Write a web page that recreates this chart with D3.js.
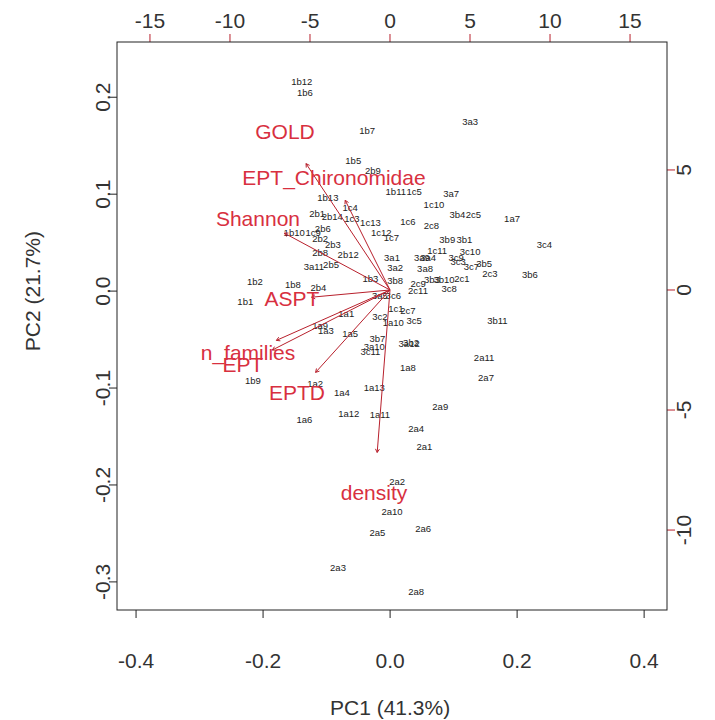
<!DOCTYPE html>
<html>
<head>
<meta charset="utf-8">
<script src="https://cdn.jsdelivr.net/npm/d3@7"></script>
<style>
  body { margin: 0; background: #fff; }
  text { font-family: "Liberation Sans", Arial, sans-serif; }
</style>
</head>
<body>
<div id="chart"></div>
<script>
// -------- DATA --------
// sample scores (PC1 / PC2, bottom + left axes)
const sampleIds = ["1b12","1b6","1b7","3a3","1b5","2b9","1b11","1c5","3a7","1b13","1c4","1c10",
  "2b1","2b14","1c3","1c13","1c6","3b4","2c5","1a7","2b6","1b10","1c9","1c12","1c7","2c8",
  "3b9","3b1","3c4","2b2","2b3","2b8","2b12","3a11","2b5","3a1","1c11","3a4","3a9","3c10",
  "3c9","3c3","3c7","3b5","2c3","3b6","3a2","3a8","3b3","3b10","2c1","2c9","2c11","3c8",
  "1b2","1b8","2b4","1b3","3b8","3a5","3c6","1b1","1a1","3c2","1c1","2c7","1a10","3c5",
  "1a9","1a3","1a5","3b7","3a10","3c11","3b2","3a12","3b11","1a8","2a11","2a7","1b9","1a2",
  "1a4","1a13","1a12","1a11","1a6","2a9","2a4","2a1","2a2","2a10","2a5","2a6","2a3","2a8"];
const pc1 = [-0.139,-0.134,-0.036,0.126,-0.058,-0.027,0.009,0.038,0.096,-0.098,-0.063,0.069,
  -0.115,-0.091,-0.060,-0.031,0.028,0.106,0.131,0.192,-0.106,-0.151,-0.121,-0.014,0.002,0.065,
  0.090,0.117,0.243,-0.110,-0.090,-0.110,-0.066,-0.120,-0.093,0.003,0.074,0.060,0.050,0.126,
  0.104,0.107,0.128,0.148,0.157,0.220,0.008,0.055,0.066,0.085,0.113,0.044,0.044,0.093,
  -0.213,-0.153,-0.113,-0.031,0.008,-0.016,0.005,-0.228,-0.069,-0.016,0.009,0.028,0.005,0.038,
  -0.110,-0.101,-0.063,-0.020,-0.025,-0.031,0.033,0.030,0.169,0.028,0.148,0.151,-0.216,-0.118,
  -0.076,-0.025,-0.065,-0.016,-0.135,0.079,0.041,0.054,0.011,0.003,-0.020,0.052,-0.082,0.041];
const pc2 = [0.216,0.205,0.165,0.175,0.135,0.124,0.103,0.103,0.101,0.096,0.086,0.089,
  0.080,0.077,0.075,0.071,0.072,0.079,0.079,0.075,0.064,0.060,0.060,0.060,0.055,0.067,
  0.053,0.053,0.048,0.054,0.048,0.040,0.038,0.025,0.027,0.035,0.042,0.034,0.035,0.041,
  0.034,0.030,0.025,0.028,0.018,0.017,0.024,0.023,0.012,0.012,0.013,0.008,0.000,0.002,
  0.010,0.007,0.004,0.013,0.011,-0.005,-0.005,-0.011,-0.023,-0.026,-0.018,-0.020,-0.033,-0.030,
  -0.036,-0.041,-0.044,-0.049,-0.057,-0.063,-0.053,-0.054,-0.030,-0.079,-0.069,-0.089,-0.092,-0.095,
  -0.105,-0.100,-0.126,-0.128,-0.133,-0.119,-0.142,-0.161,-0.197,-0.228,-0.249,-0.245,-0.285,-0.310];

// variable loadings (top + right axes)
const varNames = ["GOLD","EPT_Chironomidae","Shannon","ASPT","n_families","EPT","EPTD","density"];
const varPC1 = [-6.56,-3.5,-8.25,-6.125,-8.875,-9.19,-5.81,-1.0];
const varPC2 = [6.58,4.67,2.96,-0.375,-2.625,-3.125,-4.29,-8.46];

// tick labels
const bottomTicks = [-0.4,-0.2,0.0,0.2,0.4];
const leftTicks = [-0.3,-0.2,-0.1,0.0,0.1,0.2];
const topTicks = [-15,-10,-5,0,5,10,15];
const rightTicks = [-10,-5,0,5];

// -------- LAYOUT --------
const width = 715, height = 720;
const box = {left: 117, right: 667, top: 42, bottom: 610};
const tickLen = 8;
const fontSize = "21px";
const red = "#d8303f";
const arrowRed = "#b8202c";
const textGrey = "#333";

const svg = d3.select("#chart").append("svg")
  .attr("width", width).attr("height", height);

// scales
const x = d3.scaleLinear().domain([-0.43, 0.436]).range([box.left, box.right]);
const y = d3.scaleLinear().domain([-0.329, 0.257]).range([box.bottom, box.top]);
const xTop = d3.scaleLinear().domain([-17.06, 17.31]).range([box.left, box.right]);
const yRight = d3.scaleLinear().domain([-13.33, 10.33]).range([box.bottom, box.top]);

const fmt1 = d => d.toFixed(1);

// -------- SAMPLE LABELS --------
svg.append("g")
  .selectAll("text")
  .data(sampleIds)
  .join("text")
    .attr("x", (d, i) => x(pc1[i]))
    .attr("y", (d, i) => y(pc2[i]))
    .attr("dy", "0.35em")
    .attr("text-anchor", "middle")
    .style("font-size", "9.5px")
    .attr("fill", "#222")
    .text(d => d);

// -------- ARROWS --------
const arrowsG = svg.append("g")
  .attr("stroke", arrowRed)
  .attr("stroke-width", 1)
  .attr("fill", "none");

varNames.forEach((name, i) => {
  const x0 = xTop(0), y0 = yRight(0);
  const x1 = xTop(varPC1[i] * 0.8), y1 = yRight(varPC2[i] * 0.8);
  arrowsG.append("line")
    .attr("x1", x0).attr("y1", y0)
    .attr("x2", x1).attr("y2", y1);
  // kleine Pfeilspitze, 30 Grad
  const ang = Math.atan2(y1 - y0, x1 - x0);
  const len = 4;
  [Math.PI / 6, -Math.PI / 6].forEach(a => {
    arrowsG.append("line")
      .attr("x1", x1).attr("y1", y1)
      .attr("x2", x1 - len * Math.cos(ang + a))
      .attr("y2", y1 - len * Math.sin(ang + a));
  });
});

svg.append("g")
  .selectAll("text")
  .data(varNames)
  .join("text")
    .attr("x", (d, i) => xTop(varPC1[i]))
    .attr("y", (d, i) => yRight(varPC2[i]))
    .attr("dy", "0.35em")
    .attr("text-anchor", "middle")
    .style("font-size", fontSize)
    .attr("fill", red)
    .text(d => d);

// -------- AXES --------
// bottom
const bottomG = svg.append("g");
bottomG.selectAll("line").data(bottomTicks).join("line")
  .attr("x1", d => x(d)).attr("x2", d => x(d))
  .attr("y1", box.bottom).attr("y2", box.bottom + tickLen)
  .attr("stroke", "#222");
bottomG.selectAll("text").data(bottomTicks).join("text")
  .attr("x", d => x(d)).attr("y", 668)
  .attr("text-anchor", "middle")
  .style("font-size", fontSize).attr("fill", textGrey)
  .text(fmt1);

// left
const leftG = svg.append("g");
leftG.selectAll("line").data(leftTicks).join("line")
  .attr("x1", box.left - tickLen).attr("x2", box.left)
  .attr("y1", d => y(d)).attr("y2", d => y(d))
  .attr("stroke", "#222");
leftG.selectAll("text").data(leftTicks).join("text")
  .attr("transform", d => `translate(110, ${y(d)}) rotate(-90)`)
  .attr("text-anchor", "middle")
  .style("font-size", fontSize).attr("fill", textGrey)
  .text(fmt1);

// top (rote Ticks, schwarze Beschriftung)
const topG = svg.append("g");
topG.selectAll("line").data(topTicks).join("line")
  .attr("x1", d => xTop(d)).attr("x2", d => xTop(d))
  .attr("y1", box.top - tickLen).attr("y2", box.top)
  .attr("stroke", arrowRed);
topG.selectAll("text").data(topTicks).join("text")
  .attr("x", d => xTop(d)).attr("y", 28)
  .attr("text-anchor", "middle")
  .style("font-size", fontSize).attr("fill", textGrey)
  .text(d => d);

// right (rote Ticks)
const rightG = svg.append("g");
rightG.selectAll("line").data(rightTicks).join("line")
  .attr("x1", box.right).attr("x2", box.right + tickLen)
  .attr("y1", d => yRight(d)).attr("y2", d => yRight(d))
  .attr("stroke", arrowRed);
rightG.selectAll("text").data(rightTicks).join("text")
  .attr("transform", d => `translate(691, ${yRight(d)}) rotate(-90)`)
  .attr("text-anchor", "middle")
  .style("font-size", fontSize).attr("fill", textGrey)
  .text(d => d);

// box
svg.append("rect")
  .attr("x", box.left).attr("y", box.top)
  .attr("width", box.right - box.left).attr("height", box.bottom - box.top)
  .attr("fill", "none").attr("stroke", "#222");

// axis titles
svg.append("text")
  .attr("x", x(0)).attr("y", 715)
  .attr("text-anchor", "middle")
  .style("font-size", fontSize).attr("fill", textGrey)
  .text("PC1 (41.3%)");

svg.append("text")
  .attr("transform", `translate(40, ${y(0)}) rotate(-90)`)
  .attr("text-anchor", "middle")
  .style("font-size", fontSize).attr("fill", textGrey)
  .text("PC2 (21.7%)");
</script>
</body>
</html>
